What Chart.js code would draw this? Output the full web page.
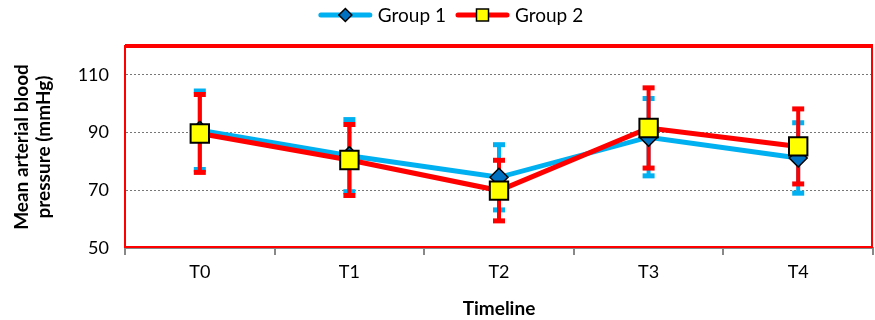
<!DOCTYPE html>
<html>
<head>
<meta charset="utf-8">
<script src="https://cdn.jsdelivr.net/npm/chart.js@4/dist/chart.umd.min.js"></script>
<style>
  html, body { margin: 0; padding: 0; background: #fff; }
  #wrap { width: 875px; height: 320px; }
</style>
</head>
<body>
<div id="wrap"><canvas id="chart" width="875" height="320"></canvas></div>
<script>
// ── Données ─────────────────────────────────────────────
const categories = ["T0", "T1", "T2", "T3", "T4"];
const group1Mean = [90.8, 82.0, 74.5, 88.4, 81.2];
const group1Sd   = [13.6, 12.5, 11.3, 13.4, 12.2];
const group2Mean = [89.7, 80.5, 69.9, 91.6, 85.2];
const group2Sd   = [13.5, 12.3, 10.5, 13.9, 13.0];
const yTicks     = [50, 70, 90, 110];
const seriesNames = ["Group 1", "Group 2"];

const BLUE = "#00B0F0", RED = "#FF0000";
const FONT = "Lato, 'Liberation Sans', sans-serif";

// marqueurs dessinés à la main (losange / carré)
function drawMarker(ctx, style, x, y, r, fill) {
  ctx.save();
  ctx.beginPath();
  if (style === "diamond") {
    ctx.moveTo(x, y - r); ctx.lineTo(x + r, y); ctx.lineTo(x, y + r); ctx.lineTo(x - r, y);
    ctx.closePath();
  } else {
    ctx.rect(x - r, y - r, 2 * r, 2 * r);
  }
  ctx.fillStyle = fill;
  ctx.fill();
  ctx.lineWidth = 1.5;
  ctx.strokeStyle = "#000";
  ctx.stroke();
  ctx.restore();
}

// ── Barres d'erreur ─────────────────────────────────────
const errorBars = {
  id: "errorBars",
  beforeDatasetsDraw(chart) {
    const ctx = chart.ctx, y = chart.scales.y;
    const sds = [group1Sd, group2Sd];
    chart.data.datasets.forEach((ds, i) => {
      const meta = chart.getDatasetMeta(i);
      ctx.save();
      ctx.strokeStyle = ds.borderColor;
      ctx.fillStyle = ds.borderColor;
      ctx.lineWidth = 4;
      meta.data.forEach((pt, j) => {
        const m = ds.data[j], s = sds[i][j];
        const top = y.getPixelForValue(m + s), bot = y.getPixelForValue(m - s);
        ctx.beginPath();
        ctx.moveTo(pt.x, top); ctx.lineTo(pt.x, bot);
        ctx.stroke();
        ctx.fillRect(pt.x - 6, top - 2.5, 12, 5);
        ctx.fillRect(pt.x - 6, bot - 2.5, 12, 5);
      });
      ctx.restore();
    });
  }
};

// ── Cadre rouge de la zone de tracé + légende ───────────
const frameLegend = {
  id: "frameLegend",
  beforeDatasetsDraw(chart) {
    const { ctx, chartArea: a } = chart;
    ctx.save();
    ctx.strokeStyle = RED;
    ctx.lineWidth = 2;
    ctx.strokeRect(a.left, a.top, a.right - a.left - 1, a.bottom - a.top - 1);
    ctx.lineWidth = 4;
    ctx.beginPath();
    ctx.moveTo(a.left, a.top); ctx.lineTo(a.right, a.top);
    ctx.stroke();
    ctx.restore();
  },
  afterDraw(chart) {
    const ctx = chart.ctx;
    const items = chart.data.datasets;
    ctx.save();
    ctx.font = "19px " + FONT;
    ctx.textBaseline = "middle";
    const lineLen = 53, gap = 6, itemGap = 10;
    const widths = items.map(d => lineLen + gap + ctx.measureText(d.label).width);
    const total = widths.reduce((a, b) => a + b, 0) + itemGap * (items.length - 1);
    let x = 451 - total / 2;
    const yy = 15;
    items.forEach((d, i) => {
      ctx.strokeStyle = d.borderColor;
      ctx.lineWidth = 5;
      ctx.lineCap = "round";
      ctx.beginPath();
      ctx.moveTo(x + 2, yy); ctx.lineTo(x + lineLen - 2, yy);
      ctx.stroke();
      drawMarker(ctx, d.pointStyle === "rectRot" ? "diamond" : "square",
                 x + lineLen / 2, yy, d.pointStyle === "rectRot" ? 6.5 : 6, d.pointBackgroundColor);
      ctx.fillStyle = "#000";
      ctx.fillText(d.label, x + lineLen + gap, yy + 1);
      x += widths[i] + itemGap;
    });
    ctx.restore();
  }
};

const chart = new Chart(document.getElementById("chart"), {
  type: "line",
  data: {
    labels: categories,
    datasets: [
      {
        label: seriesNames[0],
        data: group1Mean,
        borderColor: BLUE,
        borderWidth: 5,
        pointStyle: "rectRot",
        pointRadius: 9,
        pointBackgroundColor: "#0070C0",
        pointBorderColor: "#000",
        pointBorderWidth: 1.5,
        order: 2,
        clip: false,
      },
      {
        label: seriesNames[1],
        data: group2Mean,
        borderColor: RED,
        borderWidth: 5,
        pointStyle: "rect",
        pointRadius: 13,
        pointBackgroundColor: "#FFFF00",
        pointBorderColor: "#000",
        pointBorderWidth: 2,
        order: 1,
        clip: false,
      }
    ]
  },
  options: {
    responsive: false,
    animation: false,
    layout: { padding: { top: 46, right: 2, left: 11, bottom: 0 } },
    plugins: {
      legend: { display: false },
      tooltip: { enabled: false },
    },
    scales: {
      x: {
        offset: true,
        grid: { offset: true, drawOnChartArea: false, drawTicks: true, tickLength: 7, color: "#888", lineWidth: 2 },
        border: { color: "#888", width: 2 },
        ticks: { color: "#000", font: { family: FONT, size: 18 }, padding: 6 },
        title: { display: true, text: "Timeline", color: "#000", font: { family: FONT, size: 19, weight: "bold" }, padding: { top: 0, bottom: 0 } },
        afterFit: s => { s.height = 72; },
      },
      y: {
        min: 50, max: 120,
        afterBuildTicks: s => { s.ticks = yTicks.map(v => ({ value: v })); },
        grid: {
          drawTicks: false,
          color: c => (c.tick && c.tick.value === 50 ? "rgba(0,0,0,0)" : "#777"),
          lineWidth: 1,
        },
        border: { color: "#888", width: 2, dash: [2, 2] },
        ticks: { color: "#000", font: { family: FONT, size: 18 }, padding: 16 },
        title: {
          display: true,
          text: ["Mean arterial blood", "pressure (mmHg)"],
          color: "#000",
          font: { family: FONT, size: 19, weight: "bold", lineHeight: 1.15 },
          padding: { top: 0, bottom: 0 },
        },
        afterFit: s => { s.width = 114; },
      }
    }
  },
  plugins: [frameLegend, errorBars]
});

// les gros marqueurs ne doivent pas réserver de marge à droite
chart.data.datasets.forEach((_, i) => {
  chart.getDatasetMeta(i).controller.getMaxOverflow = () => 0;
});
chart.update();
</script>
</body>
</html>
